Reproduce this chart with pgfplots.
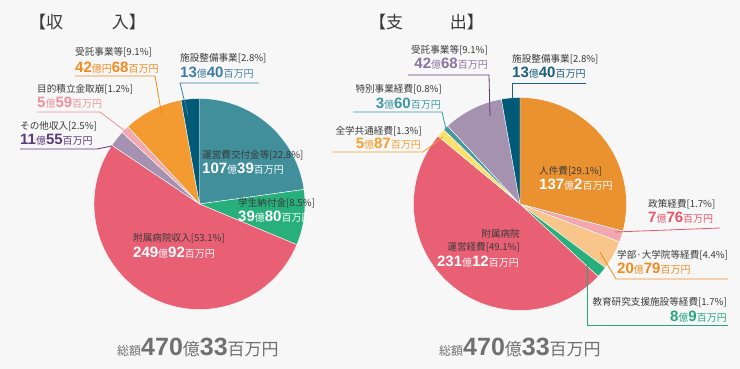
\documentclass[border=0pt]{standalone}
\usepackage{pgfplots}
\pgfplotsset{compat=1.18}
\usepackage{fontspec}
\setmainfont{Noto Sans CJK JP}
\newfontfamily\numf{Liberation Sans}
\definecolor{bg}{HTML}{F7F7F7}
\definecolor{txt}{HTML}{3A3A3A}
\definecolor{cTeal}{HTML}{408F9B}
\definecolor{cGreen}{HTML}{27B07C}
\definecolor{cRed}{HTML}{E95F74}
\definecolor{cLav}{HTML}{A592B0}
\definecolor{cPink}{HTML}{F2A8AE}
\definecolor{cOrange}{HTML}{F39A30}
\definecolor{cOrange2}{HTML}{EB9230}
\definecolor{cDark}{HTML}{005A78}
\definecolor{cPeach}{HTML}{F8C68A}
\definecolor{cYellow}{HTML}{FBE26C}
\definecolor{cTeal2}{HTML}{4597A0}
% text / line colours
\definecolor{tOrange}{HTML}{F08C1E}
\definecolor{tBlue}{HTML}{3E7EA3}
\definecolor{tPink}{HTML}{F0909E}
\definecolor{tPurple}{HTML}{5C3A7C}
\definecolor{tLav}{HTML}{8C74A2}
\definecolor{tDark}{HTML}{1D5F7C}
\definecolor{tTeal}{HTML}{3E98A5}
\definecolor{tYel}{HTML}{F5A030}
\definecolor{tRed}{HTML}{E9566C}
\definecolor{tGreen}{HTML}{26A87A}
\definecolor{tot}{HTML}{707070}

\newcommand\T[1]{{\fontsize{9.6}{11}\selectfont #1}}
\newcommand\N[1]{{\numf\bfseries\fontsize{15}{16}\selectfont #1}}
\newcommand\U[1]{{\fontsize{10}{12}\selectfont #1}}

\newcommand\pieinit[3]{\xdef\cx{#1}\xdef\cy{#2}\xdef\rr{#3}\xdef\startang{90}}
\newcommand\slice[2]{%
  \pgfmathsetmacro\endang{\startang-3.6*#1}%
  \edef\doslice{\noexpand\addplot[fill=#2,draw=white,line width=0.4pt,domain=\endang:\startang,samples=90,variable=\noexpand\t,forget plot] ({\cx+\rr*cos(\noexpand\t)},{\cy-\rr*sin(\noexpand\t)}) -- (axis cs:\cx,\cy) -- cycle;}%
  \doslice
  \xdef\startang{\endang}%
}

\begin{document}
\begin{tikzpicture}
\fill[bg] (0,0) rectangle (740pt,369pt);
\begin{axis}[at={(0,0)},anchor=south west,width=740pt,height=369pt,scale only axis,
  xmin=0,xmax=740,ymin=0,ymax=369,y dir=reverse,hide axis,clip=false]

% ---------- income pie (percent) ----------
\pieinit{199.5}{204}{105.5}
\slice{22.8}{cTeal}    % 運営費交付金等
\slice{8.5}{cGreen}    % 学生納付金
\slice{53.1}{cRed}     % 附属病院収入
\slice{2.5}{cLav}      % その他収入
\slice{1.2}{cPink}     % 目的積立金取崩
\slice{9.1}{cOrange}   % 受託事業等
\slice{2.8}{cDark}     % 施設整備事業

% ---------- expenditure pie (percent) ----------
\pieinit{520}{204}{106.5}
\slice{29.1}{cOrange2} % 人件費
\slice{1.7}{cPink}     % 政策経費
\slice{4.4}{cPeach}    % 学部・大学院等経費
\slice{1.7}{cGreen}    % 教育研究支援施設等経費
\slice{49.1}{cRed}     % 附属病院運営経費
\slice{1.3}{cYellow}   % 全学共通経費
\slice{0.8}{cTeal2}    % 特別事業経費
\slice{9.1}{cLav}      % 受託事業等
\slice{2.8}{cDark}     % 施設整備事業

% ---------- leader lines ----------
\addplot[tOrange,line width=0.8pt,forget plot] coordinates {(75,76) (155,76) (162,116)};
\addplot[tBlue,line width=0.8pt,forget plot] coordinates {(259,83) (180,83) (188,115)};
\addplot[tPink,line width=0.8pt,forget plot] coordinates {(37,112) (100,112) (125,131)};
\addplot[tPurple,line width=0.8pt,forget plot] coordinates {(20,149) (97,149) (112,146)};

\addplot[tPurple,line width=0.8pt,forget plot] coordinates {(408,75) (489,75) (490,116)};
\addplot[tDark,line width=0.8pt,forget plot] coordinates {(586,83) (512,83) (512,99)};
\addplot[tTeal,line width=0.8pt,forget plot] coordinates {(353,112) (442,112) (446,129)};
\addplot[tYel,line width=0.8pt,forget plot] coordinates {(332,152) (423,152) (443,137)};
\addplot[tRed,line width=0.8pt,forget plot] coordinates {(615,232) (720,228)};
\addplot[tOrange,line width=0.8pt,forget plot] coordinates {(600,252) (616,279) (728,279)};
\addplot[tGreen,line width=0.8pt,forget plot] coordinates {(587,265) (587,325) (728,325)};

% ---------- titles ----------
\node[anchor=west,inner sep=0,text=txt] at (axis cs:29,22) {\fontsize{17}{18}\selectfont 【収};
\node[anchor=east,inner sep=0,text=txt] at (axis cs:146,22) {\fontsize{17}{18}\selectfont 入】};
\node[anchor=west,inner sep=0,text=txt] at (axis cs:369,22) {\fontsize{17}{18}\selectfont 【支};
\node[anchor=east,inner sep=0,text=txt] at (axis cs:484,22) {\fontsize{17}{18}\selectfont 出】};

% ---------- income labels ----------
\node[anchor=west,inner sep=0,text=txt] at (axis cs:75,52) {\T{受託事業等[9.1\%]}};
\node[anchor=west,inner sep=0,text=tOrange] at (axis cs:75,68) {\N{42}\U{億円}\N{68}\U{百万円}};
\node[anchor=west,inner sep=0,text=txt] at (axis cs:180,58) {\T{施設整備事業[2.8\%]}};
\node[anchor=west,inner sep=0,text=tBlue] at (axis cs:180,73) {\N{13}\U{億}\N{40}\U{百万円}};
\node[anchor=west,inner sep=0,text=txt] at (axis cs:37,89) {\T{目的積立金取崩[1.2\%]}};
\node[anchor=west,inner sep=0,text=tPink] at (axis cs:37,103) {\N{5}\U{億}\N{59}\U{百万円}};
\node[anchor=west,inner sep=0,text=txt] at (axis cs:20,126) {\T{その他収入[2.5\%]}};
\node[anchor=west,inner sep=0,text=tPurple] at (axis cs:20,140) {\N{11}\U{億}\N{55}\U{百万円}};

\node[anchor=west,inner sep=0,text=txt] at (axis cs:202,155) {\T{運営費交付金等[22.8\%]}};
\node[anchor=west,inner sep=0,text=white] at (axis cs:202,169) {\N{107}\U{億}\N{39}\U{百万円}};
\node[anchor=west,inner sep=0,text=txt] at (axis cs:238,203) {\T{学生納付金[8.5\%]}};
\node[anchor=west,inner sep=0,text=white] at (axis cs:238,217) {\N{39}\U{億}\N{80}\U{百万円}};
\node[anchor=west,inner sep=0,text=txt] at (axis cs:133,238) {\T{附属病院収入[53.1\%]}};
\node[anchor=west,inner sep=0,text=white] at (axis cs:133,253) {\N{249}\U{億}\N{92}\U{百万円}};

% ---------- expenditure labels ----------
\node[anchor=east,inner sep=0,text=txt] at (axis cs:488,50) {\T{受託事業等[9.1\%]}};
\node[anchor=east,inner sep=0,text=tLav] at (axis cs:488,64) {\N{42}\U{億}\N{68}\U{百万円}};
\node[anchor=west,inner sep=0,text=txt] at (axis cs:512,59) {\T{施設整備事業[2.8\%]}};
\node[anchor=west,inner sep=0,text=tDark] at (axis cs:512,73) {\N{13}\U{億}\N{40}\U{百万円}};
\node[anchor=east,inner sep=0,text=txt] at (axis cs:442,89) {\T{特別事業経費[0.8\%]}};
\node[anchor=east,inner sep=0,text=tTeal] at (axis cs:441,104) {\N{3}\U{億}\N{60}\U{百万円}};
\node[anchor=east,inner sep=0,text=txt] at (axis cs:422,131) {\T{全学共通経費[1.3\%]}};
\node[anchor=east,inner sep=0,text=tYel] at (axis cs:421,144) {\N{5}\U{億}\N{87}\U{百万円}};
\node[anchor=west,inner sep=0,text=txt] at (axis cs:648,204) {\T{政策経費[1.7\%]}};
\node[anchor=west,inner sep=0,text=tRed] at (axis cs:648,218) {\N{7}\U{億}\N{76}\U{百万円}};
\node[anchor=west,inner sep=0,text=txt] at (axis cs:617,255) {\T{学部·大学院等経費[4.4\%]}};
\node[anchor=west,inner sep=0,text=tOrange] at (axis cs:617,269) {\N{20}\U{億}\N{79}\U{百万円}};
\node[anchor=east,inner sep=0,text=txt] at (axis cs:727,302) {\T{教育研究支援施設等経費[1.7\%]}};
\node[anchor=east,inner sep=0,text=tGreen] at (axis cs:727,317) {\N{8}\U{億}\N{9}\U{百万円}};

\node[anchor=west,inner sep=0,text=txt] at (axis cs:539,171) {\T{人件費[29.1\%]}};
\node[anchor=west,inner sep=0,text=white] at (axis cs:539,185) {\N{137}\U{億}\N{2}\U{百万円}};
\node[anchor=east,inner sep=0,text=txt] at (axis cs:520,234) {\T{附属病院}};
\node[anchor=east,inner sep=0,text=txt] at (axis cs:520,247) {\T{運営経費[49.1\%]}};
\node[anchor=east,inner sep=0,text=white] at (axis cs:519,262) {\N{231}\U{億}\N{12}\U{百万円}};

% ---------- totals ----------
\node[anchor=base west,inner sep=0,text=tot] at (axis cs:117,355) {{\fontsize{12}{14}\selectfont 総額}{\numf\bfseries\fontsize{25}{28}\selectfont 470}{\fontsize{17}{20}\selectfont 億}{\numf\bfseries\fontsize{25}{28}\selectfont 33}{\fontsize{17}{20}\selectfont 百万円}};
\node[anchor=base west,inner sep=0,text=tot] at (axis cs:439,355) {{\fontsize{12}{14}\selectfont 総額}{\numf\bfseries\fontsize{25}{28}\selectfont 470}{\fontsize{17}{20}\selectfont 億}{\numf\bfseries\fontsize{25}{28}\selectfont 33}{\fontsize{17}{20}\selectfont 百万円}};
\end{axis}
\end{tikzpicture}
\end{document}
